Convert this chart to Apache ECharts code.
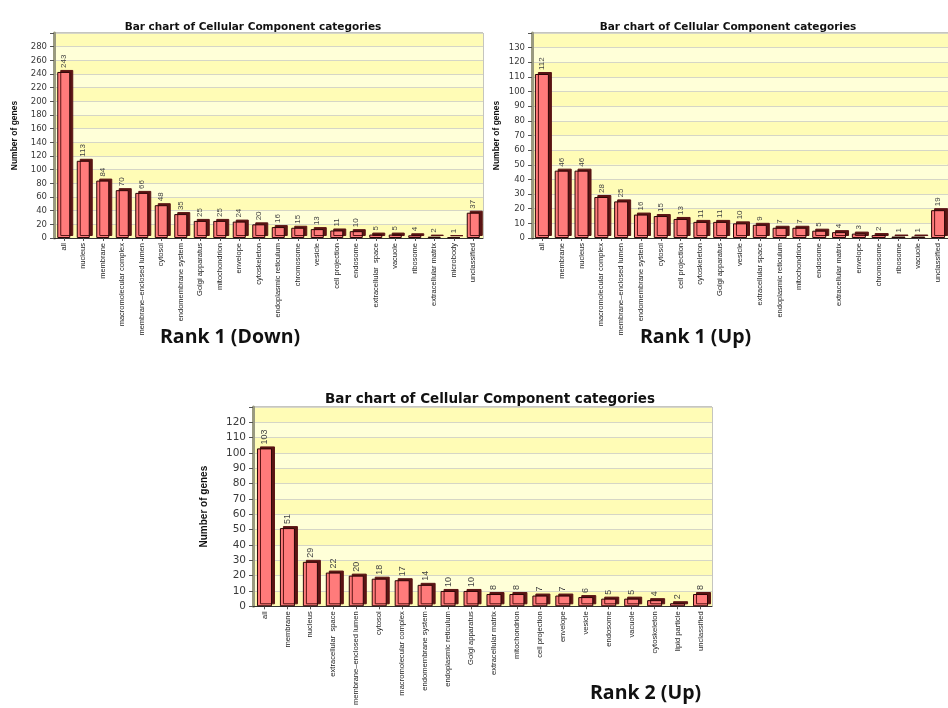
<!DOCTYPE html>
<html><head><meta charset="utf-8">
<script src="https://cdn.jsdelivr.net/npm/echarts@6/dist/echarts.min.js"></script>
<style>html,body{margin:0;padding:0;background:#fff}#c{width:948px;height:708px}</style>
</head><body><div id="c"></div>
<script>
// ---- data ----
const chartTitle = 'Bar chart of Cellular Component categories';
const yAxisName = 'Number of genes';
const rankLabels = ['Rank 1 (Down)', 'Rank 1 (Up)', 'Rank 2 (Up)'];

const cats1 = ['all','nucleus','membrane','macromolecular complex','membrane\u2013enclosed lumen','cytosol','endomembrane system','Golgi apparatus','mitochondrion','envelope','cytoskeleton','endoplasmic reticulum','chromosome','vesicle','cell projection','endosome','extracellular  space','vacuole','ribosome','extracellular matrix','microbody','unclassified'];
const vals1 = [243,113,84,70,66,48,35,25,25,24,20,16,15,13,11,10,5,5,4,2,1,37];

const cats2 = ['all','membrane','nucleus','macromolecular complex','membrane\u2013enclosed lumen','endomembrane system','cytosol','cell projection','cytoskeleton','Golgi apparatus','vesicle','extracellular space','endoplasmic reticulum','mitochondrion','endosome','extracellular matrix','envelope','chromosome','ribosome','vacuole','unclassified'];
const vals2 = [112,46,46,28,25,16,15,13,11,11,10,9,7,7,5,4,3,2,1,1,19];

const cats3 = ['all','membrane','nucleus','extracellular  space','membrane\u2013enclosed lumen','cytosol','macromolecular complex','endomembrane system','endoplasmic reticulum','Golgi apparatus','extracellular matrix','mitochondrion','cell projection','envelope','vesicle','endosome','vacuole','cytoskeleton','lipid particle','unclassified'];
const vals3 = [103,51,29,22,20,18,17,14,10,10,8,8,7,7,6,5,5,4,2,8];

const yMax = [300, 140, 130];
const yStep = [20, 10, 10];

// ---- styling ----
const NARROW = '"Liberation Sans Narrow", "Liberation Sans", sans-serif';
const DARK_BAND = '#FFFCB6';
const LIGHT_BAND = '#FFFFD8';

const grids = [
  {left: 54, top: 33, width: 429, height: 205},
  {left: 532, top: 33, width: 426, height: 205},
  {left: 253, top: 407, width: 459, height: 201}
];
const bandColors = [
  [DARK_BAND, LIGHT_BAND],
  [LIGHT_BAND, DARK_BAND],
  [DARK_BAND, LIGHT_BAND]
];
const scale = [
  {tick: 8.5, xlab: 7.5, val: 8, name: 8.5, nameGap: 35, barW: 13},
  {tick: 8.5, xlab: 7.5, val: 8, name: 8.5, nameGap: 31, barW: 14},
  {tick: 10.5, xlab: 7.6, val: 9, name: 10, nameGap: 44, barW: 15}
];
const allCats = [cats1, cats2, cats3];
const allVals = [vals1, vals2, vals3];

const titleStyle = (fs) => ({fontFamily: 'DejaVu Sans', fontWeight: 'bold', fontSize: fs, color: '#111'});
const rankFont = 'bold 19.5px "Open Sans", sans-serif';

const option = {
  animation: false,
  backgroundColor: '#ffffff',
  title: [
    {text: chartTitle, left: 248, top: 17, textAlign: 'center', textStyle: titleStyle(10.5)},
    {text: chartTitle, left: 723, top: 17, textAlign: 'center', textStyle: titleStyle(10.5)},
    {text: chartTitle, left: 485, top: 387, textAlign: 'center', textStyle: titleStyle(13.5)}
  ],
  graphic: [
    {type: 'text', left: 160, top: 327, style: {text: rankLabels[0], font: rankFont, fill: '#111'}},
    {type: 'text', left: 640, top: 327, style: {text: rankLabels[1], font: rankFont, fill: '#111'}},
    {type: 'text', left: 590, top: 683, style: {text: rankLabels[2], font: rankFont, fill: '#111'}}
  ],
  grid: grids.map(g => Object.assign({show: true, borderColor: '#8c8c80', borderWidth: 1, backgroundColor: 'transparent'}, g)),
  xAxis: allCats.map((c, i) => ({
    type: 'category', gridIndex: i, data: c,
    axisLine: {show: true, lineStyle: {color: '#333', width: 1}},
    axisTick: {show: true, alignWithLabel: true, length: 3, lineStyle: {color: '#555'}},
    axisLabel: {interval: 0, rotate: 90, fontFamily: NARROW, fontSize: scale[i].xlab, color: '#222', margin: 5},
    splitLine: {show: false}
  })),
  yAxis: yMax.map((m, i) => ({
    type: 'value', gridIndex: i, min: 0, max: m, interval: yStep[i],
    name: yAxisName, nameLocation: 'middle', nameRotate: 90, nameGap: scale[i].nameGap,
    nameTextStyle: {fontFamily: NARROW, fontWeight: 'bold', fontSize: scale[i].name, color: '#111'},
    axisLine: {show: true, lineStyle: {color: '#9a9a80', width: 3}},
    axisTick: {show: true, length: 4, lineStyle: {color: '#555'}},
    axisLabel: {fontFamily: 'DejaVu Sans', fontSize: scale[i].tick, color: '#3a3a3a', margin: 7,
      formatter: v => (v >= m ? '' : String(v))},
    splitLine: {show: true, lineStyle: {color: '#d6d6c6', width: 1}},
    splitArea: {show: true, areaStyle: {color: bandColors[i]}}
  })),
  series: allVals.map((v, i) => ({
    type: 'bar', xAxisIndex: i, yAxisIndex: i, data: v, barWidth: scale[i].barW,
    itemStyle: {color: '#FF7B7B', borderColor: '#2a0606', borderWidth: 1,
      shadowColor: '#5a1414', shadowOffsetX: 3, shadowOffsetY: -2, shadowBlur: 0},
    label: {show: true, position: 'top', rotate: 90, align: 'left', verticalAlign: 'middle', distance: 4,
      fontFamily: NARROW, fontSize: scale[i].val, color: '#444'}
  }))
};

const chart = echarts.init(document.getElementById('c'), null, {renderer: 'canvas'});
chart.setOption(option);
</script>
</body></html>
